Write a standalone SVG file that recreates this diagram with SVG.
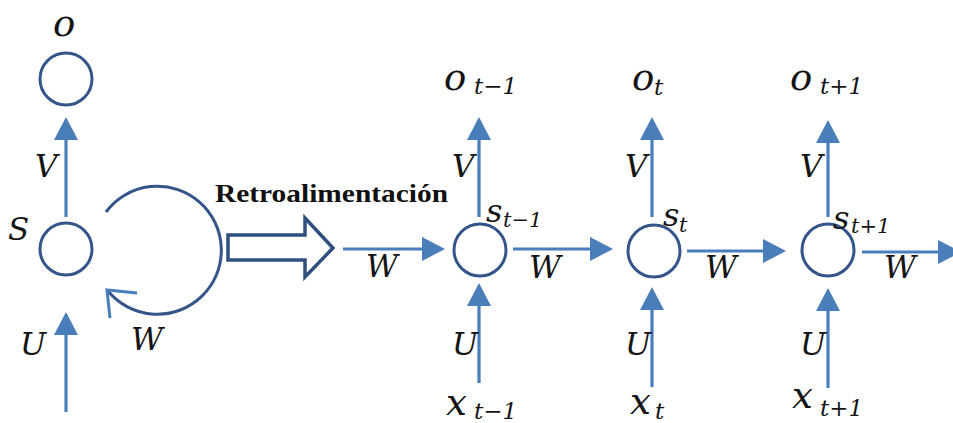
<svg xmlns="http://www.w3.org/2000/svg" width="953" height="423" viewBox="0 0 953 423">
<style>
.node{fill:none;stroke:#34558a;stroke-width:3}
.arr{stroke:#4a7ebb;stroke-width:3.2;fill:none}
.lbl{font-family:"DejaVu Serif",serif;font-style:italic;fill:#151515}
.big{font-size:37px}
.cap{font-size:31px}
.sub{font-size:23px}
.ss{font-size:32px}
.ssub{font-size:21px}
.title{font-family:"Liberation Serif",serif;font-weight:bold;font-size:25px;fill:#111}
</style>
<defs>
<marker id="ah" viewBox="0 0 23 24" refX="10" refY="12" markerWidth="23" markerHeight="24" markerUnits="userSpaceOnUse" orient="auto">
<path d="M0,0 L23,12 L0,24 z" fill="#4a7ebb"/>
</marker>
</defs>
<rect width="953" height="423" fill="#fff"/>
<g id="connectors">
<line class="arr" x1="66" y1="217" x2="66" y2="130" marker-end="url(#ah)"/>
<line class="arr" x1="66" y1="412" x2="66" y2="325" marker-end="url(#ah)"/>
<path d="M106,212 A64,64 0 1 1 108,291" fill="none" stroke="#34558a" stroke-width="3"/>
<path d="M137,293 L107,290 L110,318" fill="none" stroke="#4a7ebb" stroke-width="3"/>
<polygon points="228,235 305,235 305,218 333,248 305,277 305,260 228,260" fill="none" stroke="#2f4f7f" stroke-width="3.5" stroke-linejoin="miter"/>
<line class="arr" x1="343" y1="249" x2="432" y2="249" marker-end="url(#ah)"/>
<line class="arr" x1="479" y1="217" x2="479" y2="130" marker-end="url(#ah)"/>
<line class="arr" x1="479" y1="383" x2="479" y2="296" marker-end="url(#ah)"/>
<line class="arr" x1="513" y1="249" x2="600" y2="249" marker-end="url(#ah)"/>
<line class="arr" x1="652" y1="217" x2="652" y2="130" marker-end="url(#ah)"/>
<line class="arr" x1="652" y1="387" x2="652" y2="300" marker-end="url(#ah)"/>
<line class="arr" x1="687" y1="251" x2="773" y2="251" marker-end="url(#ah)"/>
<line class="arr" x1="828" y1="217" x2="828" y2="133" marker-end="url(#ah)"/>
<line class="arr" x1="828" y1="388" x2="828" y2="301" marker-end="url(#ah)"/>
<line class="arr" x1="862" y1="252" x2="948" y2="252" marker-end="url(#ah)"/>
</g>
<g id="node-o">
<circle class="node" cx="66" cy="79" r="26"/>
<text class="lbl big" x="53" y="36">o</text>
</g>
<g id="node-s">
<circle class="node" cx="66" cy="249" r="26"/>
<text class="lbl cap" x="8" y="240">S</text>
</g>
<g id="node-st-1">
<circle class="node" cx="480" cy="250" r="26"/>
<text class="lbl"><tspan class="ss" x="486" y="222">s</tspan><tspan class="ssub" x="503" y="227">t−1</tspan></text>
</g>
<g id="node-st">
<circle class="node" cx="654" cy="251" r="26"/>
<text class="lbl"><tspan class="ss" x="663" y="226">s</tspan><tspan class="ssub" x="679" y="232">t</tspan></text>
</g>
<g id="node-st+1">
<circle class="node" cx="828" cy="250" r="26"/>
<text class="lbl"><tspan class="ss" x="833" y="229">s</tspan><tspan class="ssub" x="851" y="233">t+1</tspan></text>
</g>
<g id="labels">
<text class="title" x="215" y="202" textLength="233" lengthAdjust="spacingAndGlyphs">Retroalimentación</text>
<text class="lbl cap" x="35" y="177">V</text>
<text class="lbl cap" x="20" y="355">U</text>
<text class="lbl cap" x="131" y="350">W</text>
<text class="lbl"><tspan class="big" x="444" y="90">o</tspan><tspan class="sub" x="474" y="94">t−1</tspan></text>
<text class="lbl"><tspan class="big" x="632" y="90">o</tspan><tspan class="sub" x="654" y="95">t</tspan></text>
<text class="lbl"><tspan class="big" x="790" y="90">o</tspan><tspan class="sub" x="820" y="94">t+1</tspan></text>
<text class="lbl cap" x="452" y="177">V</text>
<text class="lbl cap" x="625" y="177">V</text>
<text class="lbl cap" x="800" y="177">V</text>
<text class="lbl cap" x="366" y="277">W</text>
<text class="lbl cap" x="529" y="278">W</text>
<text class="lbl cap" x="705" y="278">W</text>
<text class="lbl cap" x="884" y="278">W</text>
<text class="lbl cap" x="452" y="355">U</text>
<text class="lbl cap" x="625" y="355">U</text>
<text class="lbl cap" x="800" y="355">U</text>
<text class="lbl"><tspan class="big" x="446" y="415">x</tspan><tspan class="sub" x="474" y="419">t−1</tspan></text>
<text class="lbl"><tspan class="big" x="630" y="414">x</tspan><tspan class="sub" x="655" y="419">t</tspan></text>
<text class="lbl"><tspan class="big" x="792" y="408">x</tspan><tspan class="sub" x="820" y="416">t+1</tspan></text>
</g>
</svg>
